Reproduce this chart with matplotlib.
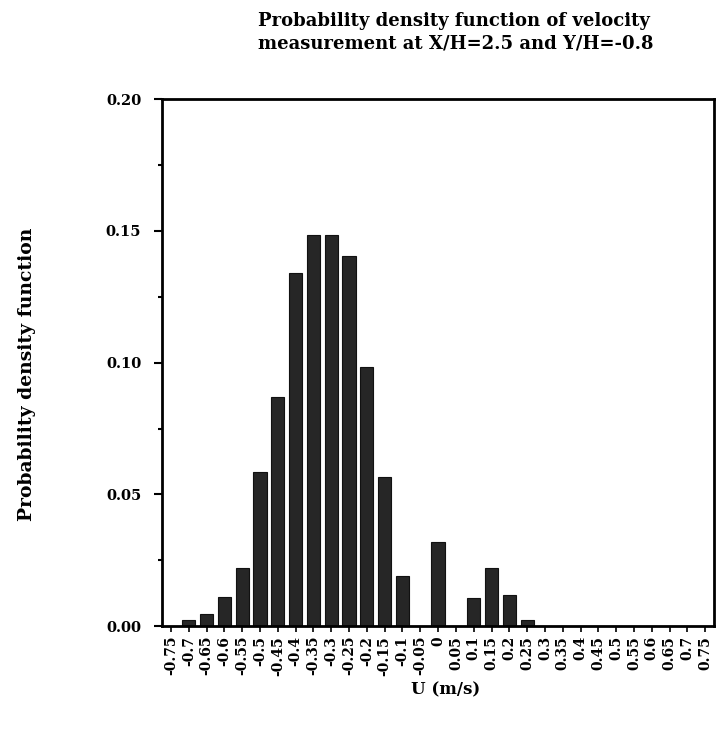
import numpy as np
import matplotlib
matplotlib.use('Agg')
import matplotlib.pyplot as plt
from matplotlib.ticker import MultipleLocator

# velocity bins (m/s) and PDF values
u_labels = ['-0.75', '-0.7', '-0.65', '-0.6', '-0.55', '-0.5', '-0.45', '-0.4', '-0.35', '-0.3',
            '-0.25', '-0.2', '-0.15', '-0.1', '-0.05', '0', '0.05', '0.1', '0.15', '0.2',
            '0.25', '0.3', '0.35', '0.4', '0.45', '0.5', '0.55', '0.6', '0.65', '0.7', '0.75']
pdf = [0.0, 0.0025, 0.0047, 0.0109, 0.0221, 0.0585, 0.0869, 0.134, 0.1484, 0.1484,
       0.1405, 0.0984, 0.0565, 0.0189, 0.0, 0.032, 0.0, 0.0108, 0.0221, 0.0119,
       0.0025, 0.0, 0.0, 0.0, 0.0, 0.0, 0.0, 0.0, 0.0, 0.0, 0.0]

plt.rcParams['font.family'] = ['DejaVu Serif']
plt.rcParams['font.weight'] = 'bold'

fig = plt.figure(figsize=(7.17, 7.29), dpi=100)
ax = fig.add_axes([0.226, 0.141, 0.770, 0.723])

x = np.arange(len(u_labels))
ax.bar(x, pdf, width=0.74, color='#262626', edgecolor='#111111', linewidth=0.8)

ax.set_xlim(-0.5, len(u_labels) - 0.5)
ax.set_ylim(0, 0.20)
ax.set_xticks(x)
ax.set_xticklabels(u_labels, rotation=90, fontsize=10, fontweight='bold')
ax.yaxis.set_minor_locator(MultipleLocator(0.025))
ax.set_yticks([0.0, 0.05, 0.10, 0.15, 0.20])
ax.set_yticklabels(['0.00', '0.05', '0.10', '0.15', '0.20'], fontsize=10.5, fontweight='bold')
ax.tick_params(axis='y', which='major', direction='out', length=6, width=1.5, pad=9)
ax.tick_params(axis='y', which='minor', direction='out', length=3, width=1.5)
ax.tick_params(axis='x', direction='out', length=4, width=1.2, pad=3)
for s in ax.spines.values():
    s.set_linewidth(2)

fig.text(258 / 717, 1 - 12 / 729, 'Probability density function of velocity\nmeasurement at X/H=2.5 and Y/H=-0.8',
         ha='left', va='top', fontsize=13, fontweight='bold', linespacing=1.3)
fig.text(27 / 717, 1 - 374 / 729, 'Probability density function', rotation=90,
         ha='center', va='center', fontsize=13.5, fontweight='bold')
fig.text(446 / 717, 1 - 690 / 729, 'U (m/s)', ha='center', va='center',
         fontsize=12, fontweight='bold')

fig.savefig('out.png', dpi=100)
